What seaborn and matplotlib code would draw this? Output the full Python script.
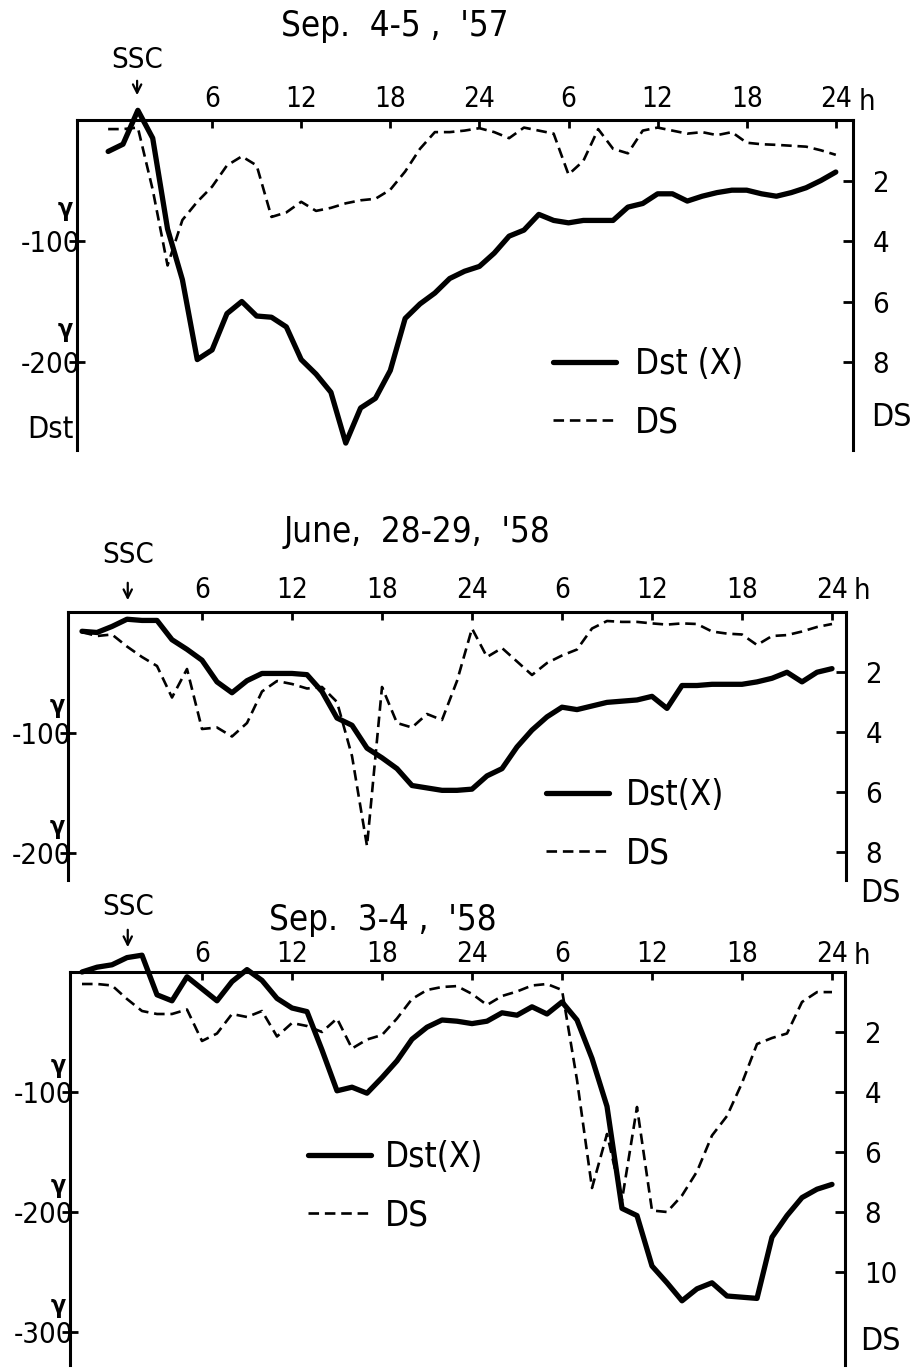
import numpy as np
import pandas as pd
import matplotlib
matplotlib.use("Agg")
import matplotlib.pyplot as plt
import seaborn as sns
from matplotlib import font_manager as fm
from matplotlib.lines import Line2D

# ------------------------------------------------------------------ data
TITLES = ["Sep.  4-5 ,  '57", "June,  28-29,  '58", "Sep.  3-4 ,  '58"]
HOUR_TICKS = [6, 12, 18, 24, 30, 36, 42, 48]
HOUR_LABELS = ["6", "12", "18", "24", "6", "12", "18", "24"]
SSC_HOUR = [0.95, 1.05, 1.05]
LEGEND_LABELS = [["Dst (X)", "DS"], ["Dst(X)", "DS"], ["Dst(X)", "DS"]]
DST_TICKS = [[-100, -200], [-100, -200], [-100, -200, -300]]
DST_TICK_LABELS = [["-100", "-200"], ["-100", "-200"], ["-100", "-200", "-300"]]
DS_TICKS = [[2, 4, 6, 8], [2, 4, 6, 8], [2, 4, 6, 8, 10]]
DS_TICK_LABELS = [["2", "4", "6", "8"], ["2", "4", "6", "8"], ["2", "4", "6", "8", "10"]]

# Sep 4-5, 1957
HOURS_1 = list(range(-1, 49))
DST_1 = [-26, -20, 8, -15, -90, -132, -198, -190, -160, -150,
         -162, -163, -171, -198, -210, -225, -267, -238, -230, -207,
         -164, -152, -143, -131, -125, -121, -110, -96, -91, -78,
         -83, -85, -83, -83, -83, -72, -69, -61, -61, -67,
         -63, -60, -58, -58, -61, -63, -60, -56, -50, -43]
DS_1 = [0.3, 0.3, 0.25, 2.3, 4.8, 3.3, 2.7, 2.2, 1.5, 1.2,
        1.5, 3.2, 3.05, 2.7, 3.0, 2.9, 2.75, 2.65, 2.6, 2.3,
        1.7, 0.95, 0.4, 0.4, 0.35, 0.27, 0.4, 0.6, 0.25, 0.35,
        0.45, 1.8, 1.35, 0.3, 0.95, 1.1, 0.35, 0.25, 0.35, 0.45,
        0.4, 0.5, 0.4, 0.75, 0.8, 0.82, 0.85, 0.88, 1.0, 1.15]

# June 28-29, 1958
HOURS_2 = list(range(-2, 49))
DST_2 = [-16, -17, -12, -6, -7, -7, -23, -31, -40, -58,
         -67, -57, -51, -51, -51, -52, -66, -88, -94, -113,
         -121, -130, -144, -146, -148, -148, -147, -136, -130, -112,
         -98, -87, -79, -81, -78, -75, -74, -73, -70, -80,
         -61, -61, -60, -60, -60, -58, -55, -50, -58, -50, -47]
DS_2 = [0.67, 0.8, 0.75, 1.15, 1.5, 1.8, 2.85, 1.9, 3.9, 3.85,
        4.15, 3.7, 2.65, 2.3, 2.4, 2.55, 2.5, 3.0, 4.8, 7.8,
        2.5, 3.7, 3.85, 3.4, 3.6, 2.3, 0.55, 1.5, 1.2, 1.65,
        2.1, 1.7, 1.45, 1.25, 0.55, 0.3, 0.33, 0.33, 0.38, 0.42,
        0.38, 0.4, 0.65, 0.72, 0.75, 1.1, 0.8, 0.77, 0.65, 0.5, 0.4]

# Sep 3-4, 1958
HOURS_3 = list(range(-2, 49))
DST_3 = [0, 4, 6, 12, 14, -19, -24, -4, -14, -24,
         -8, 2, -7, -22, -30, -33, -65, -99, -96, -101,
         -88, -74, -56, -46, -40, -41, -43, -41, -34, -36,
         -29, -35, -25, -40, -72, -112, -197, -203, -245, -259,
         -274, -264, -259, -270, -271, -272, -221, -203, -188, -181, -177]
DS_3 = [0.4, 0.4, 0.45, 0.9, 1.3, 1.4, 1.4, 1.25, 2.3, 2.05,
        1.4, 1.5, 1.3, 2.15, 1.7, 1.8, 2.0, 1.55, 2.55, 2.25,
        2.1, 1.55, 0.9, 0.6, 0.5, 0.47, 0.73, 1.1, 0.8, 0.65,
        0.45, 0.4, 0.6, 3.6, 7.2, 5.4, 7.6, 4.5, 7.95, 8.0,
        7.45, 6.65, 5.45, 4.8, 3.7, 2.4, 2.2, 2.05, 1.0, 0.67, 0.67]

SERIES = [(HOURS_1, DST_1, DS_1), (HOURS_2, DST_2, DS_2), (HOURS_3, DST_3, DS_3)]

# ------------------------------------------------------------------ layout (pixels)
LAYOUT = [
    dict(l=77, t=120, r=853, b=450, h0=123, pxh=14.85, dst_px=1.21, ds_px=30.3,
         title=(395, 26), tickpad=5, h=(867, 102), ssc=(60, 42, 22),
         gamma=(-12, 32), leg=(553, 347, 0.57), dslab=(891, 417), dstlab=(50, 430)),
    dict(l=68, t=612, r=846, b=880, h0=112, pxh=15.0, dst_px=1.205, ds_px=30.0,
         title=(417, 532), tickpad=6, h=(862, 591), ssc=(57, 32, 9),
         gamma=(-11, 26), leg=(546, 778, 0.5), dslab=(880, 893), dstlab=None),
    dict(l=70, t=972, r=845, b=1365, h0=112, pxh=15.0, dst_px=1.2, ds_px=30.0,
         title=(383, 920), tickpad=3, h=(862, 956), ssc=(65, 45, 22),
         gamma=(-12, 26), leg=(308, 1140, 0.4), dslab=(880, 1341), dstlab=None),
]

W, H = 918, 1370

sns.set_theme(style="ticks")


def pick_font():
    for name in ["Liberation Sans Narrow", "DejaVu Sans"]:
        try:
            fm.findfont(fm.FontProperties(family=name), fallback_to_default=False)
            return name
        except Exception:
            pass
    return "DejaVu Sans"


FONT = pick_font()
plt.rcParams["font.family"] = [FONT, "DejaVu Sans"]
plt.rcParams["font.stretch"] = "condensed"
for key in ["text.color", "axes.labelcolor", "xtick.color", "ytick.color", "axes.edgecolor"]:
    plt.rcParams[key] = "black"
plt.rcParams["axes.linewidth"] = 2.2

fig = plt.figure(figsize=(W / 100, H / 100), dpi=100)
fig.patch.set_facecolor("white")


def px_axes(l, t, r, b):
    return fig.add_axes([l / W, 1 - b / H, (r - l) / W, (b - t) / H])


def ftext(x, y, s, **kw):
    kw.setdefault("ha", "center")
    kw.setdefault("va", "center")
    fig.text(x / W, 1 - y / H, s, **kw)


for i, (lay, (hrs, dst, ds)) in enumerate(zip(LAYOUT, SERIES)):
    ax = px_axes(lay["l"], lay["t"], lay["r"], lay["b"])
    ax.set_facecolor("none")
    ax2 = ax.twinx()
    df = pd.DataFrame({"hour": hrs, "Dst": dst, "DS": ds})

    sns.lineplot(data=df, x="hour", y="Dst", ax=ax, color="black", lw=3.8,
                 clip_on=False, solid_joinstyle="round", solid_capstyle="round")
    sns.lineplot(data=df, x="hour", y="DS", ax=ax2, color="black", lw=1.9,
                 clip_on=False, linestyle=(0, (4.0, 2.2)))

    height = lay["b"] - lay["t"]
    x0 = (lay["l"] - lay["h0"]) / lay["pxh"]
    x1 = (lay["r"] - lay["h0"]) / lay["pxh"]
    ax.set_xlim(x0, x1)
    ax.set_ylim(-height / lay["dst_px"], 0)
    ax2.set_ylim(height / lay["ds_px"], 0)

    for a in (ax, ax2):
        a.set_xlabel("")
        a.set_ylabel("")
        a.grid(False)
        for s in a.spines.values():
            s.set_visible(False)
            s.set_linewidth(2.2)
            s.set_color("black")
    ax.spines["left"].set_visible(True)
    ax.spines["top"].set_visible(True)
    ax2.spines["right"].set_visible(True)

    # top hour ticks
    ax.set_xticks(HOUR_TICKS, HOUR_LABELS)
    ax.tick_params(axis="x", which="both", top=True, labeltop=True, bottom=False,
                   labelbottom=False, direction="in", length=6, width=2,
                   labelsize=20, pad=lay["tickpad"], colors="black")
    ax2.tick_params(axis="x", which="both", top=False, labeltop=False,
                    bottom=False, labelbottom=False)

    # left Dst ticks
    ax.set_yticks(DST_TICKS[i], DST_TICK_LABELS[i])
    ax.tick_params(axis="y", left=True, right=False, labelleft=True, labelright=False,
                   direction="inout", length=12, width=2, labelsize=21, pad=-8,
                   colors="black")
    ax.minorticks_off()

    # right DS ticks
    ax2.set_yticks(DS_TICKS[i], DS_TICK_LABELS[i])
    ax2.tick_params(axis="y", left=False, right=True, labelleft=False, labelright=True,
                    direction="in", length=7, width=2, labelsize=21, pad=14,
                    colors="black")
    ax2.minorticks_off()

    # gamma unit marks above the Dst tick labels
    gx, gy = lay["gamma"]
    for v in DST_TICKS[i]:
        ax.annotate("γ", xy=(0, v), xycoords=("axes fraction", "data"),
                    xytext=(gx, gy), textcoords="offset pixels",
                    ha="center", va="center", fontsize=18, fontweight="bold")

    # SSC arrow
    t_txt, t_tail, t_tip = lay["ssc"]
    ssc = SSC_HOUR[i]
    ax.annotate("", xy=(ssc, 1 + t_tip / height), xycoords=("data", "axes fraction"),
                xytext=(ssc, 1 + t_tail / height), textcoords=("data", "axes fraction"),
                arrowprops=dict(arrowstyle="->,head_length=0.5,head_width=0.25",
                                lw=1.6, color="black"), annotation_clip=False)
    ax.annotate("SSC", xy=(ssc, 1 + t_txt / height), xycoords=("data", "axes fraction"),
                ha="center", va="center", fontsize=21, annotation_clip=False)

    # titles and labels
    ftext(*lay["title"], TITLES[i], fontsize=25)
    ftext(*lay["h"], "h", fontsize=21)
    ftext(*lay["dslab"], "DS", fontsize=23)
    if lay["dstlab"] is not None:
        ftext(*lay["dstlab"], "Dst", fontsize=22)

    # legend
    lx, ly, tpad = lay["leg"]
    handles = [Line2D([], [], color="black", lw=3.8),
               Line2D([], [], color="black", lw=1.9, linestyle=(0, (4.0, 2.2)))]
    ax2.legend(handles, LEGEND_LABELS[i], loc="upper left",
               bbox_to_anchor=(lx / W, 1 - ly / H), bbox_transform=fig.transFigure,
               frameon=False, fontsize=25, handlelength=1.8, handletextpad=tpad,
               labelspacing=0.7, borderpad=0, borderaxespad=0)

fig.savefig("out.png", dpi=100, facecolor="white")
